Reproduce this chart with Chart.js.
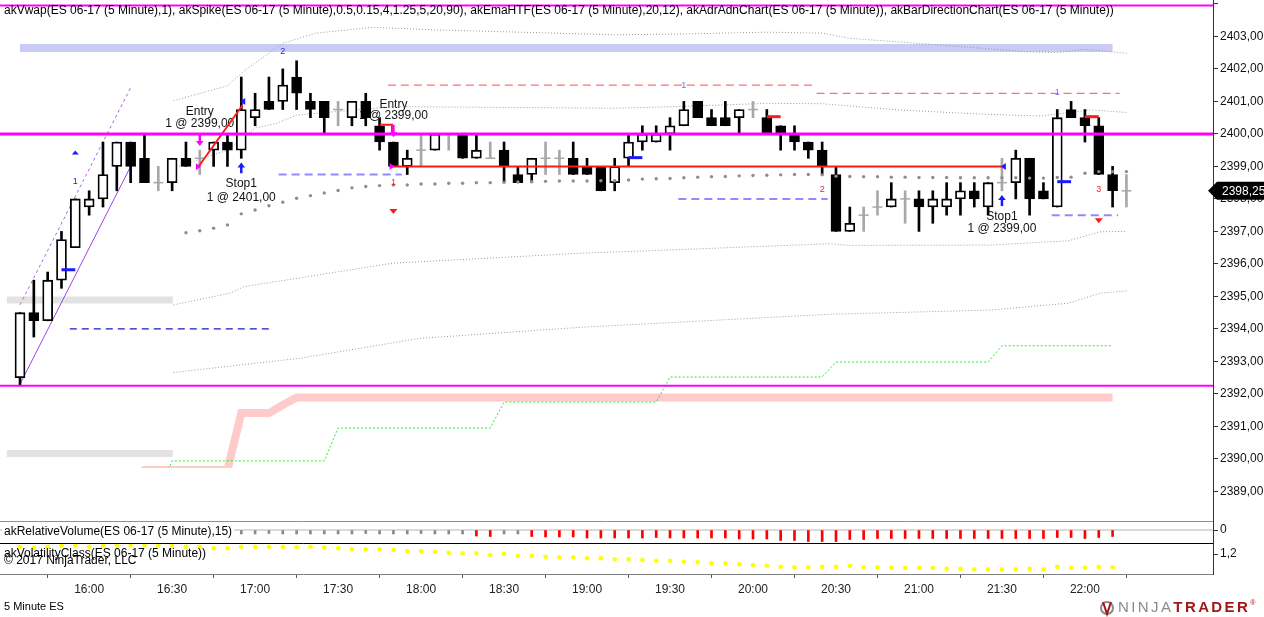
<!DOCTYPE html>
<html>
<head>
<meta charset="utf-8">
<script src="https://cdn.jsdelivr.net/npm/chart.js@4.4.1/dist/chart.umd.min.js"></script>
<style>
html,body{margin:0;padding:0;background:#fff;overflow:hidden}
canvas{display:block}
</style>
</head>
<body>
<canvas id="chart" width="1264" height="617"></canvas>
<script>
'use strict'

// ---- data ----
const firstBarTime = '15:35'
const timeLabels = ['16:00','16:30','17:00','17:30','18:00','18:30','19:00','19:30','20:00','20:30','21:00','21:30','22:00']
const priceTicks = [2389,2390,2391,2392,2393,2394,2395,2396,2397,2398,2399,2400,2401,2402,2403,2404]

const opens  = [2392.50,2394.50,2394.25,2395.50,2396.50,2397.75,2398.00,2399.00,2399.75,2399.25,2398.50,2398.50,2399.25,2399.25,2399.50,2399.75,2399.50,2400.50,2401.00,2401.00,
                2401.75,2401.00,2401.00,2400.75,2400.50,2401.00,2400.25,2399.75,2399.00,2399.50,2399.50,2400.00,2400.00,2399.25,2399.25,2399.50,2398.75,2398.75,2399.25,2399.25,
                2399.25,2399.00,2399.00,2398.50,2399.25,2399.75,2399.75,2400.00,2400.25,2401.00,2400.50,2400.50,2400.50,2400.75,2400.50,2400.25,2400.00,2399.75,2399.50,2398.75,
                2397.00,2397.50,2397.75,2397.75,2398.00,2398.00,2397.75,2397.75,2398.00,2398.25,2397.75,2398.50,2398.50,2399.25,2398.25,2397.75,2400.75,2400.50,2400.25,2398.75,2398.25]
const highs  = [2394.50,2395.50,2395.75,2397.00,2398.00,2398.25,2399.75,2399.75,2399.75,2400.00,2399.00,2399.25,2399.75,2399.50,2399.75,2400.00,2401.75,2401.25,2401.75,2402.00,
                2402.25,2401.25,2401.00,2401.00,2401.00,2401.25,2400.50,2399.75,2399.50,2400.00,2400.00,2400.00,2400.00,2400.00,2399.75,2399.75,2399.00,2399.25,2399.75,2399.50,
                2399.75,2399.25,2399.00,2399.25,2400.00,2400.25,2400.25,2400.50,2401.00,2401.00,2400.75,2401.00,2400.75,2401.00,2400.75,2400.25,2400.25,2399.75,2399.75,2399.00,
                2397.75,2397.75,2398.25,2398.50,2398.25,2398.25,2398.25,2398.50,2398.50,2398.50,2398.50,2399.25,2399.50,2399.25,2398.50,2400.75,2401.00,2400.75,2400.50,2399.00,2398.75]
const lows   = [2392.25,2393.75,2394.25,2395.25,2396.50,2397.50,2397.75,2398.25,2398.50,2398.50,2398.25,2398.25,2399.00,2398.75,2399.00,2399.00,2399.25,2400.25,2400.75,2400.75,
                2400.75,2400.50,2400.00,2400.25,2400.25,2400.25,2399.50,2399.00,2398.75,2399.00,2399.50,2399.50,2399.25,2399.25,2399.25,2398.50,2398.50,2398.50,2398.75,2398.75,
                2398.75,2398.75,2398.25,2398.25,2399.00,2399.50,2399.75,2399.50,2400.25,2400.50,2400.25,2400.25,2400.00,2400.50,2400.00,2399.50,2399.50,2399.25,2398.75,2397.00,
                2397.00,2397.00,2397.50,2397.75,2397.25,2397.00,2397.25,2397.50,2397.50,2397.75,2397.50,2398.25,2398.00,2397.50,2398.00,2397.75,2400.50,2399.75,2398.75,2397.75,2397.75]
const closes = [2394.50,2394.25,2395.50,2396.75,2398.00,2398.00,2398.75,2399.75,2399.00,2398.50,2398.50,2399.25,2399.00,2399.25,2399.75,2399.50,2400.75,2400.75,2400.75,2401.50,
                2401.25,2400.75,2400.50,2400.75,2401.00,2400.50,2399.75,2399.00,2399.25,2399.50,2400.00,2400.00,2399.25,2399.50,2399.25,2399.00,2398.50,2399.25,2399.25,2399.25,
                2398.75,2398.75,2398.25,2399.00,2399.75,2400.00,2400.00,2400.25,2400.75,2400.50,2400.25,2400.25,2400.75,2400.75,2400.00,2400.00,2399.75,2399.50,2399.00,2397.00,
                2397.25,2397.50,2397.75,2398.00,2398.00,2397.75,2398.00,2398.00,2398.25,2398.00,2398.50,2398.50,2399.25,2398.00,2398.00,2400.50,2400.50,2400.25,2398.75,2398.25,2398.25]

// akVwap dots, one per bar from bar 12
const vwapFirstBar = 12
const vwap = [2396.96,2397.02,2397.10,2397.20,2397.54,2397.66,2397.79,2397.90,2398.02,2398.10,2398.18,2398.26,2398.34,2398.38,2398.41,2398.43,2398.43,2398.46,2398.46,2398.48,
              2398.48,2398.50,2398.50,2398.51,2398.52,2398.53,2398.54,2398.55,2398.55,2398.55,2398.56,2398.56,2398.58,2398.61,2398.62,2398.63,2398.65,2398.67,2398.68,2398.69,
              2398.71,2398.72,2398.73,2398.74,2398.75,2398.75,2398.74,2398.70,2398.69,2398.68,2398.68,2398.67,2398.67,2398.66,2398.66,2398.66,2398.65,2398.65,2398.65,2398.65,
              2398.65,2398.64,2398.64,2398.66,2398.67,2398.79,2398.84,2398.84,2398.84]
// vwap bands [bar, price]
const vwapUpper2 = [[11.1,2401.02],[15,2401.48],[16.3,2401.97],[19,2402.79],[21.4,2403.10],[25.5,2403.28],[30,2403.20],[43,2403.05],[47.4,2403.07],[54,2403.13],[58,2403.10],[60,2402.94],[66.5,2402.74],[72.6,2402.53],[75,2402.50],[77,2402.60],[80,2402.48]]
const vwapUpper1 = [[11.1,2398.95],[15,2399.50],[17,2400.18],[18.6,2400.33],[20,2400.58],[27,2400.84],[43,2400.79],[47.4,2400.84],[54,2400.94],[58,2400.93],[63.4,2400.74],[69.5,2400.61],[73.8,2400.55],[77.4,2400.74],[80,2400.66]]
const vwapLower1 = [[11.1,2394.74],[15.2,2395.10],[16.2,2395.30],[26.9,2396.02],[40.6,2396.33],[45.8,2396.41],[58.5,2396.62],[60,2396.57],[70.2,2396.58],[75.8,2396.71],[78.1,2396.99],[80,2397.00]]
const vwapLower2 = [[11.1,2392.66],[20.3,2393.10],[28.9,2393.71],[40.6,2394.05],[58.5,2394.45],[70.2,2394.58],[75.8,2394.79],[78.1,2395.10],[80,2395.17]]

// akEmaHTF band, per bar from bar 5
const emaFirstBar = 5
const emaHtf = [2387.75,2389.43,2389.43,2389.43,2389.66,2389.66,2389.66,2389.66,2389.66,2389.66,2389.66,2391.41,2391.41,2391.41,2391.66,
                2391.89,2391.89,2391.89,2391.89,2391.89,2391.89,2391.89,2391.89,2391.89,2391.89,2391.89,2391.89,2391.89,2391.89,2391.89,2391.89,2391.89,2391.89,2391.89,2391.89,
                2391.89,2391.89,2391.89,2391.89,2391.89,2391.89,2391.89,2391.89,2391.89,2391.89,2391.89,2391.89,2391.89,2391.89,2391.89,2391.89,2391.89,2391.89,2391.89,2391.89,
                2391.89,2391.89,2391.89,2391.89,2391.89,2391.89,2391.89,2391.89,2391.89,2391.89,2391.89,2391.89,2391.89,2391.89,2391.89,2391.89,2391.89,2391.89,2391.89,2391.89]
// akAdrAdn level, per bar from bar 0
const adrLevel = [2388.95,2388.95,2388.95,2388.95,2388.95,2388.95,2388.95,2388.95,2388.95,2388.95,2388.95,
                  2389.94,2389.94,2389.94,2389.94,2389.94,2389.94,2389.94,2389.94,2389.94,2389.94,2389.94,2389.94,
                  2390.95,2390.95,2390.95,2390.95,2390.95,2390.95,2390.95,2390.95,2390.95,2390.95,2390.95,2390.95,
                  2391.75,2391.75,2391.75,2391.75,2391.75,2391.75,2391.75,2391.75,2391.75,2391.75,2391.75,2391.75,
                  2392.52,2392.52,2392.52,2392.52,2392.52,2392.52,2392.52,2392.52,2392.52,2392.52,2392.52,2392.52,
                  2392.98,2392.98,2392.98,2392.98,2392.98,2392.98,2392.98,2392.98,2392.98,2392.98,2392.98,2392.98,
                  2393.48,2393.48,2393.48,2393.48,2393.48,2393.48,2393.48,2393.48,2393.48]

// zones and levels
const adrZone = [[0,2402.64],[79,2402.64]]
const greyZoneHigh = [[-0.95,2394.89],[11.05,2394.89]]
const greyZoneLow = [[-0.95,2390.17],[11.05,2390.17]]
const magentaLevels = [2403.95,2400.00,2392.25,2389.66]
const channelLow = [[0,2392.30],[8,2399.00]]
const channelHigh = [[0,2394.74],[8,2401.42]]
const blueDashed = [[3.6,2394.00],[18.3,2394.00]]
const stopLines = [[[18.7,2398.75],[27.6,2398.75]],[[47.6,2398.00],[58.4,2398.00]],[[74.6,2397.50],[79.4,2397.50]]]
const targetLines = [[[26.6,2401.50],[57.4,2401.50]],[[57.6,2401.25],[79.5,2401.25]]]
const tradeLine = [[26.8,2399.00],[71,2399.00]]
const tradeDiagonal = [[12.9,2398.99],[16.1,2400.89]]
const tradeHook = [[26,2400.28],[26.9,2400.28],[26.9,2400.06]]
const redTicks = [[[54,2400.53],[55,2400.53]],[[77,2400.53],[78,2400.53]]]
const blueTicks = [[[3,2395.82],[4,2395.82]],[[44,2399.27],[45,2399.27]],[[75,2398.53],[76,2398.53]]]

// lower panels
const relVolume = [null,null,null,null,null,null,null,null,null,null,null,null,null,null,
                   0.40,0.40,0.40,0.40,0.35,0.40,0.40,0.40,0.40,0.40,0.40,0.35,0.40,0.40,0.40,0.35,0.40,0.40,0.40,
                   0.60,0.65,0.40,0.40,0.65,0.70,0.70,0.70,0.80,0.80,0.80,0.80,0.80,0.75,0.80,0.80,0.80,0.80,0.80,
                   0.90,0.90,0.90,1.05,1.05,1.15,1.15,1.15,0.95,0.95,0.85,0.85,0.85,0.85,0.85,0.85,0.85,0.85,0.85,
                   0.85,0.85,0.85,0.85,0.75,0.75,0.85,0.75,0.65]
const volatility = [1.273,1.263,1.273,1.283,1.283,1.273,1.283,1.290,1.290,1.290,1.283,1.283,1.273,1.273,1.257,1.257,1.273,1.273,1.273,1.273,
                    1.267,1.273,1.267,1.257,1.247,1.247,1.247,1.240,1.230,1.230,1.223,1.213,1.207,1.207,1.190,1.200,1.180,1.180,1.173,1.167,
                    1.167,1.157,1.157,1.147,1.147,1.140,1.133,1.133,1.123,1.117,1.107,1.107,1.097,1.090,1.083,1.073,1.067,1.067,1.073,1.073,
                    1.080,1.067,1.067,1.063,1.060,1.063,1.060,1.053,1.053,1.047,1.047,1.047,1.047,1.053,1.047,1.073,1.063,1.063,1.073,1.067]

// annotations [bar, price, text]
const orderTexts = [[13,2400.68,'Entry'],[13,2400.31,'1 @ 2399,00'],[16,2398.46,'Stop1'],[16,2398.03,'1 @ 2401,00'],
                    [27,2400.89,'Entry'],[27,2400.55,'1 @ 2399,00'],[71,2397.45,'Stop1'],[71,2397.08,'1 @ 2399,00']]
const blueCounts = [[4,2398.53,'1'],[19,2402.53,'2'],[48,2401.50,'1'],[75,2401.27,'1']]
const redCounts = [[27,2398.50,'1'],[58,2398.28,'2'],[78,2398.28,'3']]
const upSignals = [[4,2399.43]]
const downSignals = [[27,2397.61],[78,2397.33]]
const stopMarks = [[16.1,2401.00],[71.1,2399.00]]
const entryMarks = [[12.9,2398.99],[26.9,2399.00]]
const entryArrows = [[13,2399.63,2399.97],[27,2399.90,2400.28]]
const stopArrows = [[16,2399.12,2398.79],[71,2398.12,2397.78]]

// ---- layout ----
const X_MIN = -1.446, X_MAX = 86.26
const PANEL = {main: 521, vol: 22, vola: 31}
const mainClip = {left: 0, top: 0, right: 0, bottom: -(PANEL.vol + PANEL.vola)}
const FONT = "'Liberation Sans', Arial, sans-serif"

const minutes = t => { const [h, m] = t.split(':').map(Number); return h * 60 + m }
const barOf = t => (minutes(t) - minutes(firstBarTime)) / 5
const pts = arr => arr.map(([x, y]) => ({x, y}))
const isDoji = i => opens[i] === closes[i]
const fmt = v => v.toFixed(2).replace('.', ',')

const lineSet = (data, style) => Object.assign({
  type: 'line', data: pts(data), yAxisID: 'yP', pointRadius: 0, fill: false,
  tension: 0, clip: mainClip, borderCapStyle: 'butt'
}, style)

const datasets = [
  lineSet(adrZone, {borderColor: '#cacaf6', borderWidth: 8, order: 20}),
  lineSet(greyZoneHigh, {borderColor: '#e2e2e2', borderWidth: 7, order: 20}),
  lineSet(greyZoneLow, {borderColor: '#e2e2e2', borderWidth: 7, order: 20}),
  lineSet(emaHtf.map((v, k) => [emaFirstBar + k, v]), {borderColor: '#ffcaca', borderWidth: 8, order: 19}),
  lineSet(adrLevel.map((v, k) => [k, v]), {borderColor: '#2ee82e', borderWidth: 1, borderDash: [2, 2], order: 18}),
  lineSet(vwapUpper2, {borderColor: '#9a9a9a', borderWidth: 1, borderDash: [1, 2], order: 17}),
  lineSet(vwapUpper1, {borderColor: '#9a9a9a', borderWidth: 1, borderDash: [1, 2], order: 17}),
  lineSet(vwapLower1, {borderColor: '#9a9a9a', borderWidth: 1, borderDash: [1, 2], order: 17}),
  lineSet(vwapLower2, {borderColor: '#9a9a9a', borderWidth: 1, borderDash: [1, 2], order: 17}),
  lineSet(channelLow, {borderColor: '#a040f0', borderWidth: 1, order: 16}),
  lineSet(channelHigh, {borderColor: '#b060f0', borderWidth: 1, borderDash: [3, 3], order: 16}),
  lineSet(blueDashed, {borderColor: '#1a1ac0', borderWidth: 1.2, borderDash: [7, 5], order: 15}),
  ...stopLines.map(l => lineSet(l, {borderColor: '#8c8cff', borderWidth: 2, borderDash: [8, 5], order: 15})),
  ...targetLines.map(l => lineSet(l, {borderColor: '#ff7070', borderWidth: 1.2, borderDash: [8, 5], order: 15})),
  {
    type: 'bar', yAxisID: 'yP', grouped: false, barThickness: 2, order: 12, clip: mainClip,
    data: opens.map((o, i) => ({x: i, y: [lows[i], highs[i]]})),
    backgroundColor: c => (c.raw && isDoji(c.raw.x)) ? '#a8a8a8' : '#000'
  },
  {
    type: 'bar', yAxisID: 'yP', grouped: false, barThickness: 10, order: 11, clip: mainClip,
    borderWidth: 1.8, borderColor: '#000', borderSkipped: false,
    data: opens.map((o, i) => ({x: i, y: [o, closes[i]]})).filter(d => !isDoji(d.x)),
    backgroundColor: c => (c.raw && c.raw.y[1] > c.raw.y[0]) ? '#fff' : '#000'
  },
  {
    type: 'scatter', yAxisID: 'yP', order: 10, clip: mainClip,
    data: opens.map((o, i) => ({x: i, y: o})).filter(d => isDoji(d.x)),
    pointStyle: 'line', pointRadius: 5, pointBorderColor: '#a8a8a8', pointBorderWidth: 1.5
  },
  {
    type: 'scatter', yAxisID: 'yP', order: 9, clip: mainClip,
    data: vwap.map((v, k) => ({x: vwapFirstBar + k, y: v})),
    pointRadius: 1.7, pointBackgroundColor: '#8e8e8e', pointBorderWidth: 0
  },
  lineSet(tradeLine, {borderColor: '#ff1a1a', borderWidth: 2, order: 8}),
  lineSet(tradeDiagonal, {borderColor: '#ff1a1a', borderWidth: 2, order: 8}),
  lineSet(tradeHook, {borderColor: '#ff1a1a', borderWidth: 2, order: 8}),
  ...redTicks.map(l => lineSet(l, {borderColor: '#ff1a1a', borderWidth: 3, order: 8})),
  ...blueTicks.map(l => lineSet(l, {borderColor: '#1a1aff', borderWidth: 3, order: 8})),
  ...magentaLevels.map((v, k) => lineSet([[X_MIN, v], [X_MAX, v]], {borderColor: '#ff00ff', borderWidth: [2, 3, 2, 1][k], order: 5})),
  // relative volume panel
  {
    type: 'line', yAxisID: 'yVol', data: [{x: X_MIN, y: 0}, {x: X_MAX, y: 0}],
    borderColor: '#dadada', borderWidth: 2, pointRadius: 0, order: 20
  },
  {
    type: 'bar', yAxisID: 'yVol', grouped: false, barThickness: 2, order: 4,
    data: relVolume.map((v, i) => v == null ? null : {x: i, y: [0, -v]}).filter(Boolean),
    backgroundColor: c => (c.raw && -c.raw.y[1] >= 0.55) ? '#ff0000' : '#8a8a8a'
  },
  // volatility panel
  {
    type: 'scatter', yAxisID: 'yVola', clip: false, order: 4,
    data: volatility.map((v, i) => ({x: i, y: v})),
    pointRadius: 2.3, pointBackgroundColor: '#ffff00', pointBorderWidth: 0
  }
]

// ---- drawing helpers ----
function tri(ctx, x, y, dir, w, h, color) {
  ctx.fillStyle = color
  ctx.beginPath()
  if (dir === 'up') { ctx.moveTo(x - w, y + h / 2); ctx.lineTo(x + w, y + h / 2); ctx.lineTo(x, y - h / 2) }
  if (dir === 'down') { ctx.moveTo(x - w, y - h / 2); ctx.lineTo(x + w, y - h / 2); ctx.lineTo(x, y + h / 2) }
  if (dir === 'left') { ctx.moveTo(x + h / 2, y - w); ctx.lineTo(x + h / 2, y + w); ctx.lineTo(x - h / 2, y) }
  if (dir === 'right') { ctx.moveTo(x - h / 2, y - w); ctx.lineTo(x - h / 2, y + w); ctx.lineTo(x + h / 2, y) }
  ctx.closePath()
  ctx.fill()
}
function arrow(ctx, x, yTip, yTail, color) {
  const dir = yTip < yTail ? -1 : 1
  ctx.strokeStyle = color
  ctx.lineWidth = 2.5
  ctx.beginPath(); ctx.moveTo(x, yTail); ctx.lineTo(x, yTip - dir * 4); ctx.stroke()
  tri(ctx, x, yTip - dir * 2.5, dir < 0 ? 'up' : 'down', 3.8, 5, color)
}
function label(ctx, text, x, y) {
  const w = ctx.measureText(text).width
  ctx.fillStyle = '#fff'
  ctx.fillRect(x - 2, y - 7, w + 4, 14)
  ctx.fillStyle = '#000'
  ctx.fillText(text, x, y)
}

const overlay = {
  id: 'overlay',
  beforeDatasetsDraw(chart) {
    const {ctx, scales: {x, yP}} = chart
    ctx.save()
    ctx.font = '12px ' + FONT
    ctx.fillStyle = '#111'
    ctx.textAlign = 'center'
    ctx.textBaseline = 'middle'
    orderTexts.forEach(([b, p, t]) => ctx.fillText(t, x.getPixelForValue(b), yP.getPixelForValue(p)))
    ctx.restore()
  },
  afterDatasetsDraw(chart) {
    const {ctx, scales: {x, yP}} = chart
    const X = b => x.getPixelForValue(b), Y = p => yP.getPixelForValue(p)
    ctx.save()
    ctx.font = '9px ' + FONT
    ctx.textAlign = 'center'
    ctx.textBaseline = 'middle'
    blueCounts.forEach(([b, p, t], k) => { ctx.fillStyle = k < 2 ? '#2222ff' : '#7a6aff'; ctx.fillText(t, X(b), Y(p)) })
    ctx.fillStyle = '#ff2020'
    redCounts.forEach(([b, p, t]) => ctx.fillText(t, X(b), Y(p)))
    upSignals.forEach(([b, p]) => tri(ctx, X(b), Y(p), 'up', 3.5, 4, '#1a1aff'))
    downSignals.forEach(([b, p]) => tri(ctx, X(b), Y(p), 'down', 4, 5, '#ff1a1a'))
    stopMarks.forEach(([b, p]) => tri(ctx, X(b), Y(p), 'left', 3.5, 5, '#1a1aff'))
    entryMarks.forEach(([b, p]) => tri(ctx, X(b), Y(p), 'right', 3.5, 5, '#ff00ff'))
    entryArrows.forEach(([b, tip, tail]) => arrow(ctx, X(b), Y(tip), Y(tail), '#ff00ff'))
    stopArrows.forEach(([b, tip, tail]) => arrow(ctx, X(b), Y(tip), Y(tail), '#1a1aff'))
    ctx.restore()
  },
  afterDraw(chart) {
    const {ctx, chartArea: a, scales: {yP, yVol}} = chart
    ctx.save()
    // panel separators
    ctx.lineWidth = 1
    ctx.strokeStyle = '#909090'
    ctx.beginPath(); ctx.moveTo(a.left, yP.bottom + 0.5); ctx.lineTo(a.right, yP.bottom + 0.5); ctx.stroke()
    ctx.strokeStyle = '#000'
    ctx.beginPath(); ctx.moveTo(a.left, yVol.bottom + 0.5); ctx.lineTo(a.right, yVol.bottom + 0.5); ctx.stroke()
    // titles
    ctx.fillStyle = '#000'
    ctx.textBaseline = 'middle'
    ctx.textAlign = 'left'
    ctx.font = '12px ' + FONT
    ctx.fillText('akVwap(ES 06-17 (5 Minute),1), akSpike(ES 06-17 (5 Minute),0.5,0.15,4,1.25,5,20,90), akEmaHTF(ES 06-17 (5 Minute),20,12), akAdrAdnChart(ES 06-17 (5 Minute)), akBarDirectionChart(ES 06-17 (5 Minute))', 4, 11)
    label(ctx, 'akRelativeVolume(ES 06-17 (5 Minute),15)', 4, yP.bottom + 11)
    ctx.fillText('akVolatilityClass(ES 06-17 (5 Minute))', 4, yVol.bottom + 11)
    ctx.fillText('\u00a9 2017 NinjaTrader, LLC', 4, yVol.bottom + 18)
    ctx.font = '11px ' + FONT
    ctx.fillText('5 Minute ES', 4, 607)
    // last price box
    const py = yP.getPixelForValue(closes[closes.length - 1])
    ctx.fillStyle = '#000'
    ctx.beginPath()
    ctx.moveTo(a.right - 5, py)
    ctx.lineTo(a.right + 4, py - 9)
    ctx.lineTo(1264, py - 9)
    ctx.lineTo(1264, py + 9)
    ctx.lineTo(a.right + 4, py + 9)
    ctx.closePath()
    ctx.fill()
    ctx.fillStyle = '#fff'
    ctx.font = '12px ' + FONT
    ctx.fillText(fmt(closes[closes.length - 1]), a.right + 9, py + 0.5)
    // logo
    ctx.lineWidth = 2
    ctx.strokeStyle = '#8a8a8a'
    ctx.beginPath(); ctx.arc(1107, 608, 6, 0, Math.PI * 2); ctx.stroke()
    ctx.strokeStyle = '#a01818'
    ctx.beginPath(); ctx.moveTo(1103, 602); ctx.lineTo(1107, 614); ctx.lineTo(1111, 602); ctx.stroke()
    ctx.font = '15px ' + FONT
    ctx.letterSpacing = '2.4px'
    ctx.fillStyle = '#8a8a8a'
    ctx.fillText('NINJA', 1118, 608)
    const w = ctx.measureText('NINJA').width
    ctx.fillStyle = '#a01818'
    ctx.font = 'bold 15px ' + FONT
    ctx.fillText('TRADER', 1118 + w, 608)
    const w2 = ctx.measureText('TRADER').width
    ctx.letterSpacing = '0px'
    ctx.font = '7px ' + FONT
    ctx.fillText('\u00ae', 1118 + w + w2, 603)
    ctx.restore()
  }
}

Chart.defaults.font.family = FONT
Chart.defaults.font.size = 12
Chart.defaults.color = '#111'

const noPad = s => { s.paddingLeft = 0; s.paddingRight = 0; s.paddingTop = 0; s.paddingBottom = 0 }

const sideAxis = (weight, min, max, ticks, fmtLabel) => ({
  type: 'linear', position: 'right', stack: 'panels', stackWeight: weight, min, max,
  afterBuildTicks: s => { s.ticks = ticks.map(v => ({value: v})) },
  afterFit: s => { s.width = 51; noPad(s) },
  ticks: {callback: fmtLabel, padding: 2, color: '#111', font: {size: 12}},
  grid: {drawOnChartArea: false, tickLength: 5, color: '#333'},
  border: {color: '#333'}
})

new Chart(document.querySelector('#chart'), {
  type: 'bar',
  data: {datasets},
  plugins: [overlay],
  options: {
    responsive: false,
    animation: false,
    devicePixelRatio: 1,
    layout: {padding: 0, autoPadding: false},
    plugins: {legend: {display: false}, tooltip: {enabled: false}},
    scales: {
      x: {
        type: 'linear', position: 'bottom', min: X_MIN, max: X_MAX, offset: false,
        afterBuildTicks: s => { s.ticks = timeLabels.map(t => ({value: barOf(t)})) },
        afterFit: s => { s.height = 43; noPad(s) },
        ticks: {callback: (v, k) => timeLabels[k], color: '#222', padding: 4, maxRotation: 0, autoSkip: false},
        grid: {drawOnChartArea: false, tickLength: 4, color: '#555'},
        border: {color: '#808080'}
      },
      yP: sideAxis(PANEL.main, 2388.09, 2404.12, priceTicks, v => v > 2403.5 ? '' : fmt(v)),
      yVol: sideAxis(PANEL.vol, -1.3, 0.9, [0], () => '0'),
      yVola: sideAxis(PANEL.vola, 1.0, 1.31, [1.2], () => '1,2')
    }
  }
})
</script>
</body>
</html>
